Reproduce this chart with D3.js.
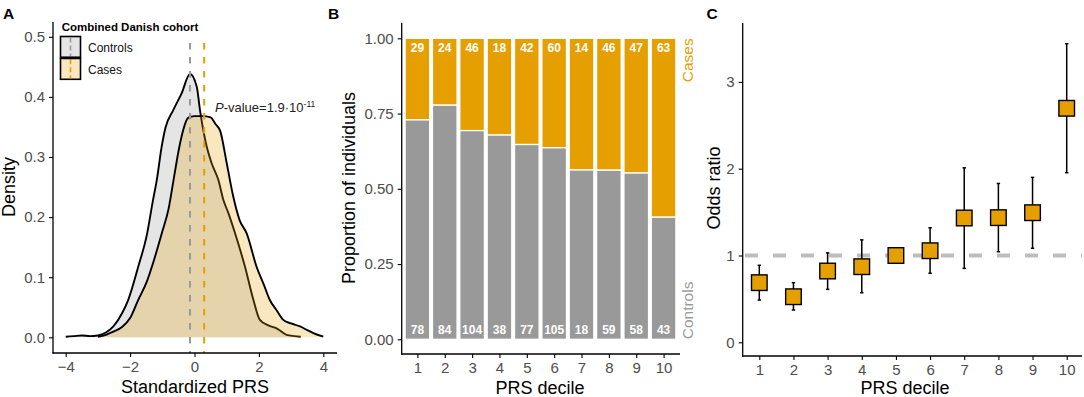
<!DOCTYPE html>
<html><head><meta charset="utf-8">
<script src="https://cdn.jsdelivr.net/npm/d3@7"></script>
<style>
html,body{margin:0;padding:0;background:#fff;}
svg{display:block;font-family:"Liberation Sans",Arial,Helvetica,sans-serif;}
</style></head>
<body>
<svg id="chart" width="1084" height="397"></svg>
<script>
// ---------- Data ----------
// Panel A: density of standardized PRS
const ctrlX = [-4,-3.75,-3.5,-3.25,-3,-2.75,-2.52,-2.25,-2.06,-1.75,-1.47,-1.3,-1.17,-1.02,-0.9,-0.66,-0.4,-0.14,0.07,0.17,0.38,0.53,0.74,0.9,1.05,1.26,1.57,1.83,2.03,2.29,2.55,2.86,3.1,3.3];
const ctrlDensity = [0.001,0.002,0.003,0.002,0.003,0.008,0.018,0.04,0.062,0.117,0.173,0.225,0.262,0.317,0.349,0.378,0.406,0.438,0.417,0.378,0.317,0.29,0.262,0.228,0.207,0.173,0.117,0.062,0.029,0.02,0.015,0.004,0.002,0.001];
const caseX = [-3,-2.75,-2.5,-2.25,-2,-1.75,-1.5,-1.25,-1,-0.8,-0.65,-0.47,-0.35,-0.2,0,0.25,0.5,0.65,0.8,1,1.2,1.4,1.62,1.93,2.15,2.34,2.55,2.76,3,3.28,3.5,3.69,4];
const caseDensity = [0.001,0.004,0.01,0.017,0.032,0.062,0.09,0.13,0.176,0.215,0.262,0.317,0.345,0.365,0.368,0.368,0.366,0.355,0.343,0.29,0.235,0.195,0.173,0.117,0.088,0.062,0.045,0.029,0.023,0.018,0.012,0.007,0.001];
const groupMeans = [-0.14, 0.3];           // Controls, Cases
const densityXTicks = [-4,-2,0,2,4];
const densityYTicks = [0,0.1,0.2,0.3,0.4,0.5];

// Panel B: counts per PRS decile
const deciles = [1,2,3,4,5,6,7,8,9,10];
const caseCounts = [29,24,46,18,42,60,14,46,47,63];
const controlCounts = [78,84,104,38,77,105,18,59,58,43];
const propTicks = [0,0.25,0.5,0.75,1];
const propTickLabels = ["0.00","0.25","0.50","0.75","1.00"];

// Panel C: odds ratios per decile (reference decile 5)
const oddsRatio = [0.687,0.525,0.821,0.871,1.0,1.055,1.432,1.436,1.493,2.696];
const orLower = [0.487,0.372,0.61,0.571,null,0.795,0.852,1.044,1.083,1.954];
const orUpper = [0.887,0.687,1.03,1.18,null,1.32,2.01,1.83,1.90,3.44];
const orTicks = [0,1,2,3];

// ---------- Styles ----------
const ORANGE = "#E69F00", GREY = "#999999";
const TICK_COL = "#4d4d4d";
const svg = d3.select("#chart");

function styleAxis(g){
  g.select(".domain").remove();
  g.selectAll(".tick line").attr("stroke","#000").attr("stroke-width",1.1);
  g.selectAll(".tick text").attr("fill",TICK_COL).style("font-size","15px")
    .style("font-family","'Liberation Sans',Arial,sans-serif");
}
function axisLine(x1,y1,x2,y2){
  svg.append("line").attr("x1",x1).attr("y1",y1).attr("x2",x2).attr("y2",y2)
    .attr("stroke","#000").attr("stroke-width",1.3);
}
function title(x,y,txt,rot){
  const t = svg.append("text").attr("font-size",18).attr("fill","#000").attr("text-anchor","middle").text(txt);
  if(rot){ t.attr("transform",`translate(${x},${y}) rotate(-90)`); } else { t.attr("x",x).attr("y",y); }
  return t;
}
function panelLabel(x,y,txt){
  svg.append("text").attr("x",x).attr("y",y).attr("font-size",15.5).attr("font-weight","bold").text(txt);
}

// ================= Panel A =================
const xA = d3.scaleLinear().domain([-4,4]).range([65.7,323.3]);
const yA = d3.scaleLinear().domain([0,0.5]).range([337.3,36.8]);

const ctrlData = ctrlX.map((x,i)=>({x, d:ctrlDensity[i]}));
const caseData = caseX.map((x,i)=>({x, d:caseDensity[i]}));
const area = d3.area().x(p=>xA(p.x)).y0(yA(0)).y1(p=>yA(p.d)).curve(d3.curveMonotoneX);
const line = d3.line().x(p=>xA(p.x)).y(p=>yA(p.d)).curve(d3.curveMonotoneX);

svg.append("path").attr("d",area(ctrlData)).attr("fill","rgba(153,153,153,0.25)");
svg.append("path").attr("d",line(ctrlData)).attr("fill","none").attr("stroke","#000").attr("stroke-width",1.9);
svg.append("path").attr("d",area(caseData)).attr("fill","rgba(230,159,0,0.25)");
svg.append("path").attr("d",line(caseData)).attr("fill","none").attr("stroke","#000").attr("stroke-width",1.9);

// mean lines
[[groupMeans[0],GREY],[groupMeans[1],ORANGE]].forEach(([m,c])=>{
  svg.append("line").attr("x1",xA(m)).attr("x2",xA(m)).attr("y1",43).attr("y2",353)
    .attr("stroke",c).attr("stroke-width",2).attr("stroke-dasharray","6.5,7.5");
});

// axes
axisLine(53,22,53,353.6);
axisLine(52.4,353,337,353);
svg.append("g").attr("transform","translate(53,0)")
  .call(d3.axisLeft(yA).tickValues(densityYTicks).tickFormat(d3.format(".1f")).tickSize(4).tickPadding(4))
  .call(styleAxis);
svg.append("g").attr("transform","translate(0,353)")
  .call(d3.axisBottom(xA).tickValues(densityXTicks).tickFormat(d=> d<0 ? "\u2212"+Math.abs(d) : d).tickSize(4).tickPadding(4))
  .call(styleAxis);

title(195,393,"Standardized PRS");
title(15,187,"Density",true);

// P-value annotation
const pv = svg.append("text").attr("x",215).attr("y",111.5).attr("font-size",13).attr("fill","#222");
pv.append("tspan").attr("font-style","italic").text("P");
pv.append("tspan").text("-value=1.9\u00B710");
pv.append("tspan").attr("font-size",8.5).attr("dy",-5).text("-11");

// legend
svg.append("text").attr("x",61.7).attr("y",30.5).attr("font-size",11.5).attr("font-weight","bold").text("Combined Danish cohort");
const legendItems = [{label:"Controls", fill:"rgba(153,153,153,0.25)", line:GREY, y:36.5},
                     {label:"Cases", fill:"rgba(230,159,0,0.25)", line:ORANGE, y:58.3}];
legendItems.forEach(it=>{
  svg.append("rect").attr("x",60.5).attr("y",it.y).attr("width",20).attr("height",21)
    .attr("fill",it.fill).attr("stroke","#000").attr("stroke-width",1.6);
  svg.append("line").attr("x1",70.5).attr("x2",70.5).attr("y1",it.y+1).attr("y2",it.y+20)
    .attr("stroke",it.line).attr("stroke-width",1.6).attr("stroke-dasharray","5,3");
  svg.append("text").attr("x",88).attr("y",it.y+15.8).attr("font-size",12).attr("fill","#111").text(it.label);
});
// thicker separator between keys
svg.append("line").attr("x1",60).attr("x2",81).attr("y1",57.9).attr("y2",57.9).attr("stroke","#000").attr("stroke-width",2.6);

panelLabel(3,19.3,"A");

// ================= Panel B =================
const xB = d3.scaleLinear().domain([0.4,10.6]).range([401,680]);
const yB = d3.scaleLinear().domain([0,1]).range([339.3,38.3]);
const step = xB(2)-xB(1);
const barW = step*0.9;
const barData = deciles.map((d,i)=>{
  const tot = caseCounts[i]+controlCounts[i];
  return {d, ctrl: controlCounts[i], cas: caseCounts[i], pCtrl: controlCounts[i]/tot};
});
const gB = svg.append("g");
barData.forEach(b=>{
  // cases (top)
  gB.append("rect").attr("x",xB(b.d)-barW/2).attr("width",barW)
    .attr("y",yB(1)).attr("height",yB(b.pCtrl)-yB(1))
    .attr("fill",ORANGE).attr("stroke","#fff").attr("stroke-width",1.3);
  // controls (bottom)
  gB.append("rect").attr("x",xB(b.d)-barW/2).attr("width",barW)
    .attr("y",yB(b.pCtrl)).attr("height",yB(0)-yB(b.pCtrl))
    .attr("fill",GREY).attr("stroke","#fff").attr("stroke-width",1.3);
  gB.append("text").attr("x",xB(b.d)).attr("y",52.3).attr("text-anchor","middle")
    .attr("font-size",12).attr("font-weight","bold").attr("fill","#fff").text(b.cas);
  gB.append("text").attr("x",xB(b.d)).attr("y",334.3).attr("text-anchor","middle")
    .attr("font-size",12).attr("font-weight","bold").attr("fill","#fff").text(b.ctrl);
});
axisLine(401.7,22.7,401.7,354.6);
axisLine(401,354,680,354);
svg.append("g").attr("transform","translate(401.7,0)")
  .call(d3.axisLeft(yB).tickValues(propTicks).tickFormat((d,i)=>propTickLabels[i]).tickSize(4).tickPadding(4))
  .call(styleAxis);
svg.append("g").attr("transform","translate(0,354)")
  .call(d3.axisBottom(xB).tickValues(deciles).tickFormat(d3.format("d")).tickSize(4).tickPadding(4))
  .call(styleAxis);

svg.append("text").attr("transform",`translate(693,${yB(1)}) rotate(-90)`).attr("text-anchor","end")
  .attr("font-size",15.5).attr("fill",ORANGE).text("Cases");
svg.append("text").attr("transform",`translate(693,${yB(0)}) rotate(-90)`).attr("text-anchor","start")
  .attr("font-size",15.5).attr("fill",GREY).text("Controls");

title(540,393.5,"PRS decile");
title(355,188,"Proportion of individuals",true);
panelLabel(328,19.3,"B");

// ================= Panel C =================
const xC = d3.scaleLinear().domain([1,10]).range([759.3,1066.7]);
const yC = d3.scaleLinear().domain([0,3]).range([342.3,81.9]);

svg.append("line").attr("x1",745).attr("x2",1082).attr("y1",yC(1)).attr("y2",yC(1))
  .attr("stroke","#bdbdbd").attr("stroke-width",4).attr("stroke-dasharray","13,15");

const orData = deciles.map((d,i)=>({d, or:oddsRatio[i], lo:orLower[i], hi:orUpper[i]}));
const gC = svg.append("g");
orData.forEach(o=>{
  if(o.lo!=null){
    gC.append("line").attr("x1",xC(o.d)).attr("x2",xC(o.d)).attr("y1",yC(o.lo)).attr("y2",yC(o.hi))
      .attr("stroke","#000").attr("stroke-width",1.5);
    [o.lo,o.hi].forEach(v=>{
      gC.append("line").attr("x1",xC(o.d)-1.7).attr("x2",xC(o.d)+1.7).attr("y1",yC(v)).attr("y2",yC(v))
        .attr("stroke","#000").attr("stroke-width",1.5);
    });
  }
});
orData.forEach(o=>{
  gC.append("rect").attr("x",xC(o.d)-7.8).attr("y",yC(o.or)-7.8).attr("width",15.6).attr("height",15.6)
    .attr("fill",ORANGE).attr("stroke","#000").attr("stroke-width",1.4);
});

axisLine(742.7,23,742.7,356.6);
axisLine(742,356,1082,356);
svg.append("g").attr("transform","translate(742.7,0)")
  .call(d3.axisLeft(yC).tickValues(orTicks).tickFormat(d3.format("d")).tickSize(4).tickPadding(4))
  .call(styleAxis);
svg.append("g").attr("transform","translate(0,356)")
  .call(d3.axisBottom(xC).tickValues(deciles).tickFormat(d3.format("d")).tickSize(4).tickPadding(4))
  .call(styleAxis);

title(905,393.5,"PRS decile");
title(720,188,"Odds ratio",true);
panelLabel(706.5,19.3,"C");
</script>
</body></html>
